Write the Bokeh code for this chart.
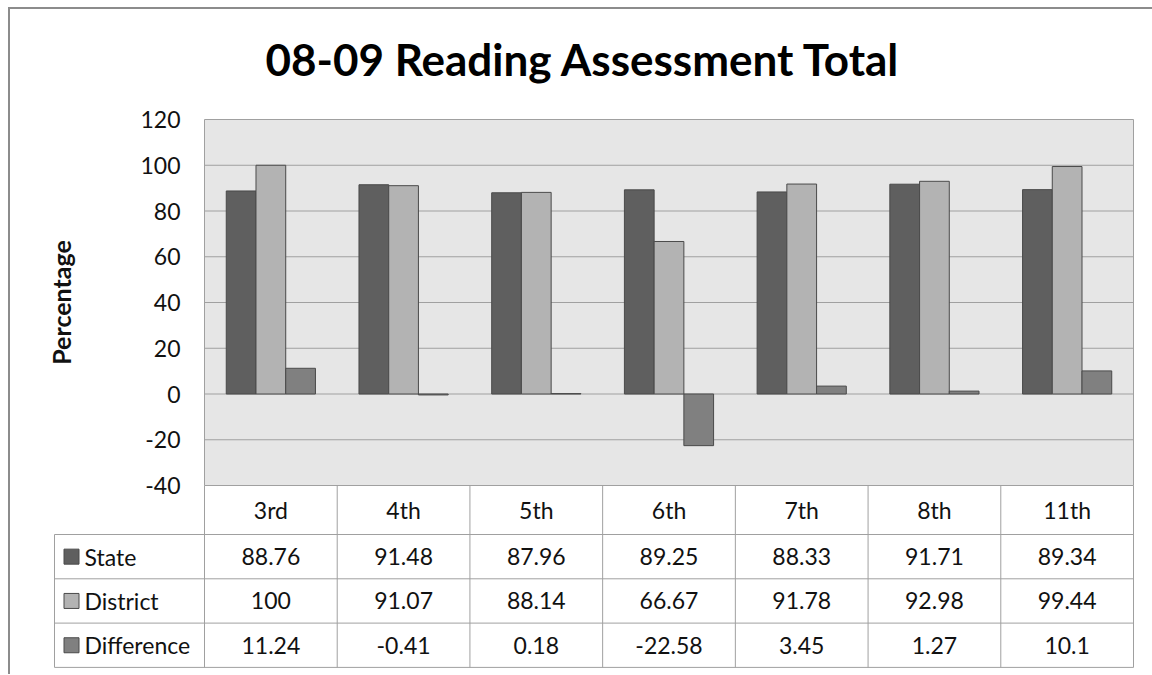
import math
from bokeh.plotting import figure
from bokeh.models import Range1d, ColumnDataSource
from bokeh.layouts import column
from bokeh.core.properties import value
from bokeh.embed import file_html
from bokeh.resources import INLINE

# ---------------- data ----------------
categories = ["3rd", "4th", "5th", "6th", "7th", "8th", "11th"]
state = [88.76, 91.48, 87.96, 89.25, 88.33, 91.71, 89.34]
district = [100, 91.07, 88.14, 66.67, 91.78, 92.98, 99.44]
difference = [11.24, -0.41, 0.18, -22.58, 3.45, 1.27, 10.1]
series_names = ["State", "District", "Difference"]
series_values = [state, district, difference]
y_ticks = [-40, -20, 0, 20, 40, 60, 80, 100, 120]
title_text = "08-09 Reading Assessment Total"
y_label = "Percentage"

# ---------------- styles ----------------
FONT = "Lato"
series_colors = ["#5f5f5f", "#b3b3b3", "#808080"]
bar_line = "#4a4a4a"
grid_col = "#a0a0a0"
bg_col = "#e6e6e6"
txt_col = "#111111"
TXT = "23px"
BAR_W = 0.224
offsets = [-BAR_W, 0.0, BAR_W]

# ---------------- layout (pixels) ----------------
CW = 929.0 / 7.0                        # px per category column
PX = 366.0 / (y_ticks[-1] - y_ticks[0])  # px per percentage point
FRAME_L, PLOT_L, PLOT_R, FRAME_R = 44.0, 204.0, 1133.0, 1136.0
FRAME_T, PLOT_T, FRAME_B = 105.0, 119.0, 668.0
HEAD_H, ROW_H = 49.0, 44.3
LEG_W = 150.0

n = len(categories)
ymin, ymax = y_ticks[0], y_ticks[-1]


def xpx(px):  # horizontal pixel offset from the plot's left edge -> data
    return px / CW


def ydown(px):  # pixels below the bottom of the value area -> data
    return ymin - px / PX


p = figure(x_range=Range1d(xpx(FRAME_L - PLOT_L), n + xpx(FRAME_R - PLOT_R)),
           y_range=Range1d(ydown(FRAME_B - (PLOT_T + 366.0)),
                           ymax + (PLOT_T - FRAME_T) / PX),
           width=1142, height=665, output_backend="svg",
           toolbar_location=None, x_axis_location=None, y_axis_location=None,
           title=title_text,
           min_border_left=34, min_border_right=16,
           min_border_top=96, min_border_bottom=6)
p.outline_line_color = None
p.background_fill_color = "white"
p.border_fill_color = "white"
p.xgrid.visible = False
p.ygrid.visible = False

p.title.text_font = FONT
p.title.text_font_size = "44px"
p.title.text_font_style = "bold"
p.title.text_color = "#000000"
p.title.align = "left"
p.title.offset = 221
p.title.standoff = 42

# plot area background, grid lines, border
p.quad(left=[0], right=[n], bottom=[ymin], top=[ymax],
       fill_color=bg_col, line_color=None)
p.segment(x0=[0] * len(y_ticks), x1=[n] * len(y_ticks), y0=y_ticks, y1=y_ticks,
          line_color=grid_col, line_width=1)
p.segment(x0=[0, n], x1=[0, n], y0=[ymin, ymin], y1=[ymax, ymax],
          line_color=grid_col, line_width=1)

# bars
idx = list(range(n))
for name, vals, col, off in zip(series_names, series_values, series_colors, offsets):
    src = ColumnDataSource(dict(x=[i + 0.5 + off for i in idx], top=vals))
    p.vbar(x="x", top="top", bottom=0, width=BAR_W, source=src,
           fill_color=col, line_color=bar_line, line_width=1)

# y tick labels and axis title
p.text(x=[xpx(-24)] * len(y_ticks), y=y_ticks, text=[str(v) for v in y_ticks],
       text_font=value(FONT), text_font_size=TXT, text_color=txt_col,
       text_align="right", text_baseline="middle")
p.text(x=[xpx(60 - PLOT_L)], y=[(ymin + ymax) / 2], text=[y_label],
       angle=math.pi / 2, text_font=value(FONT), text_font_size="25px",
       text_font_style="bold", text_color=txt_col,
       text_align="center", text_baseline="middle")

# ---------------- data table ----------------
LEFT = xpx(-LEG_W)
row_edges = [ydown(HEAD_H + k * ROW_H) for k in range(4)]
# horizontal rules
p.segment(x0=[LEFT] * 4, x1=[n] * 4, y0=row_edges, y1=row_edges,
          line_color=grid_col, line_width=1)
# vertical rules
vx = [float(i) for i in range(n + 1)]
p.segment(x0=vx, x1=vx, y0=[ymin] * len(vx), y1=[row_edges[-1]] * len(vx),
          line_color=grid_col, line_width=1)
p.segment(x0=[LEFT], x1=[LEFT], y0=[row_edges[0]], y1=[row_edges[-1]],
          line_color=grid_col, line_width=1)

centers = [i + 0.5 for i in idx]
p.text(x=centers, y=[ydown(HEAD_H / 2)] * n, text=categories,
       text_font=value(FONT), text_font_size=TXT, text_color=txt_col,
       text_align="center", text_baseline="middle")

row_mid = [ydown(HEAD_H + (r + 0.5) * ROW_H) for r in range(3)]
for r, vals in enumerate(series_values):
    p.text(x=centers, y=[row_mid[r]] * n, text=[f"{v:g}" for v in vals],
           text_font=value(FONT), text_font_size=TXT, text_color=txt_col,
           text_align="center", text_baseline="middle")

p.rect(x=[LEFT + xpx(17)] * 3, y=row_mid, width=15, height=15,
       width_units="screen", height_units="screen",
       fill_color=series_colors, line_color=bar_line, line_width=1)
p.text(x=[LEFT + xpx(30)] * 3, y=row_mid, text=series_names,
       text_font=value(FONT), text_font_size=TXT, text_color=txt_col,
       text_align="left", text_baseline="middle")

layout = column(p, styles={"border-left": "2px solid #8c8c8c",
                           "border-top": "2px solid #8c8c8c",
                           "margin-left": "8px", "margin-top": "7px"})

open("out.html", "w").write(file_html(layout, INLINE))
